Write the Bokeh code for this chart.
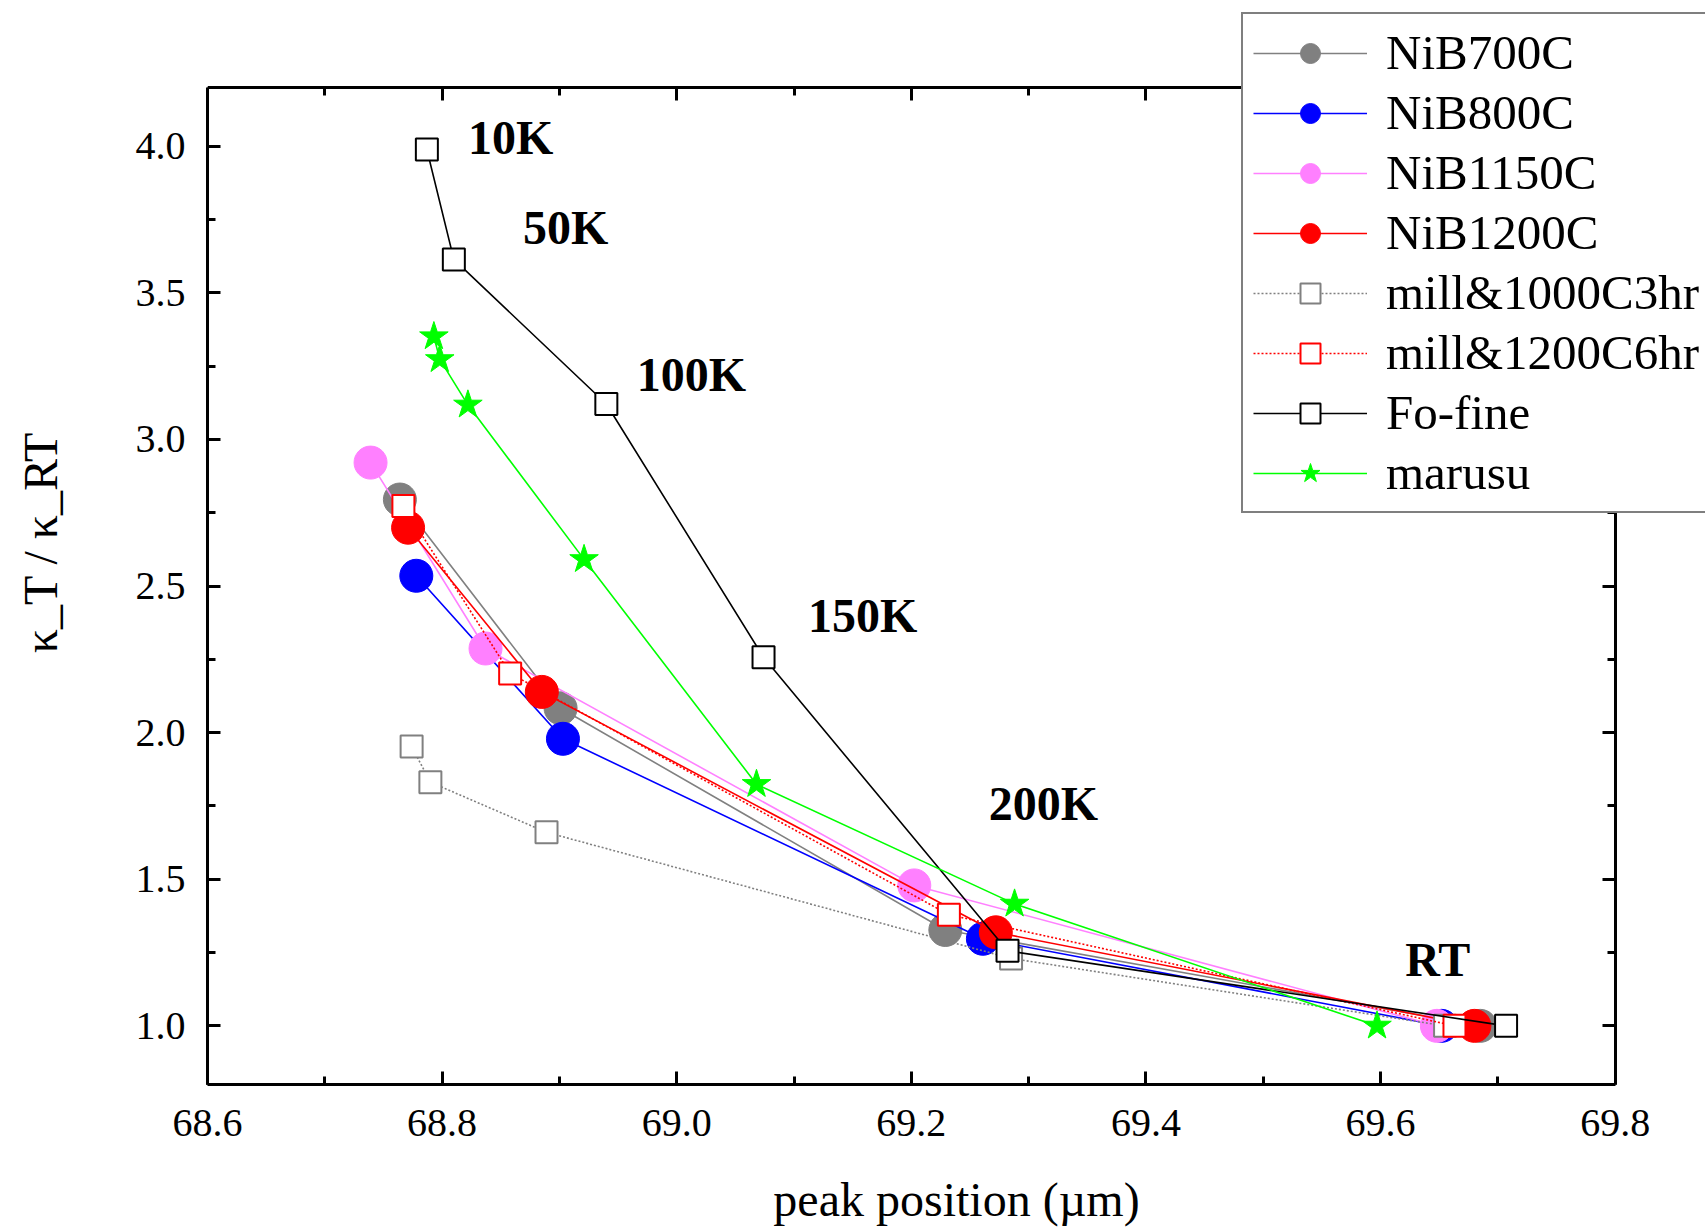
from bokeh.plotting import figure
from bokeh.models import (Legend, LegendItem, LinearAxis, SingleIntervalTicker,
                          PrintfTickFormatter, CustomJSTickFormatter, Range1d)
from bokeh.embed import file_html
from bokeh.resources import INLINE
from bokeh.core.properties import value

# ---- data (peak position in um, kappa_T / kappa_RT) ----
nib700_x = [68.764, 68.901, 69.229, 69.685]
nib700_y = [2.795, 2.083, 1.327, 1.0]
nib800_x = [68.778, 68.903, 69.261, 69.652]
nib800_y = [2.535, 1.979, 1.297, 1.0]
nib1150_x = [68.739, 68.837, 69.2025, 69.648]
nib1150_y = [2.921, 2.287, 1.479, 1.0]
nib1200_x = [68.771, 68.885, 69.272, 69.680]
nib1200_y = [2.699, 2.139, 1.319, 1.0]
mill1000_x = [68.774, 68.790, 68.889, 69.285, 69.655]
mill1000_y = [1.953, 1.831, 1.660, 1.230, 1.0]
mill1200_x = [68.767, 68.858, 69.232, 69.663]
mill1200_y = [2.773, 2.202, 1.379, 1.0]
fofine_x = [68.787, 68.810, 68.940, 69.074, 69.282, 69.707]
fofine_y = [3.989, 3.614, 3.121, 2.257, 1.256, 1.0]
marusu_x = [68.793, 68.798, 68.822, 68.921, 69.068, 69.288, 69.597]
marusu_y = [3.351, 3.273, 3.118, 2.591, 1.824, 1.416, 1.0]

temp_labels = ["10K", "50K", "100K", "150K", "200K", "RT"]
temp_x = [68.822, 68.869, 68.966, 69.112, 69.266, 69.621]
temp_y = [4.03, 3.722, 3.221, 2.398, 1.757, 1.227]

# axis box limits and the visible extent of the drawing area
X_MIN, X_MAX = 68.6, 69.8
Y_MIN, Y_MAX = 0.8, 4.2
X_VIEW_MAX = 69.877
Y_VIEW_MAX = 4.497

FONT = "Liberation Serif"

p = figure(width=1705, height=1229,
           x_range=Range1d(X_MIN, X_VIEW_MAX), y_range=Range1d(Y_MIN, Y_VIEW_MAX),
           output_backend="svg", toolbar_location=None,
           min_border_left=207, min_border_right=0,
           min_border_top=0, min_border_bottom=145)
p.xgrid.visible = False
p.ygrid.visible = False
p.outline_line_color = None
p.background_fill_color = "white"
p.border_fill_color = "white"

xt = SingleIntervalTicker(interval=0.2, num_minor_ticks=2)
yt = SingleIntervalTicker(interval=0.5, num_minor_ticks=2)
blank = CustomJSTickFormatter(code="return ''")

bottom = p.below[0]
left = p.left[0]
bottom.ticker = xt
left.ticker = yt
bottom.bounds = (X_MIN, X_MAX)
left.bounds = (Y_MIN, Y_MAX)
bottom.formatter = PrintfTickFormatter(format="%.1f")
left.formatter = PrintfTickFormatter(format="%.1f")
bottom.axis_label = "peak position (µm)"
left.axis_label = "κ_T / κ_RT"

top = LinearAxis(ticker=xt, formatter=blank, bounds=(X_MIN, X_MAX), fixed_location=Y_MAX)
right = LinearAxis(ticker=yt, formatter=blank, bounds=(Y_MIN, Y_MAX), fixed_location=X_MAX)
p.add_layout(top, "above")
p.add_layout(right, "right")

for ax in (bottom, left, top, right):
    ax.axis_line_width = 3
    ax.axis_line_color = "black"
    ax.major_tick_in = 13
    ax.major_tick_out = 0
    ax.minor_tick_in = 8
    ax.minor_tick_out = 0
    ax.major_tick_line_width = 3
    ax.minor_tick_line_width = 3
    ax.major_label_text_font = FONT
    ax.axis_label_text_font = FONT
    ax.axis_label_text_font_style = "normal"
    ax.axis_label_text_color = "black"
    ax.major_label_text_color = "black"

for ax in (bottom, left):
    ax.major_label_text_font_size = "40px"
    ax.axis_label_text_font_size = "48px"
bottom.major_label_standoff = 25
bottom.axis_label_standoff = 34
left.major_label_standoff = 22
left.axis_label_standoff = 66

series = [
    ("NiB700C", nib700_x, nib700_y, "#808080", "circle", 33, "solid", "#808080", None),
    ("NiB800C", nib800_x, nib800_y, "#0000FF", "circle", 33, "solid", "#0000FF", None),
    ("NiB1150C", nib1150_x, nib1150_y, "#FF80FF", "circle", 33, "solid", "#FF80FF", None),
    ("NiB1200C", nib1200_x, nib1200_y, "#FF0000", "circle", 33, "solid", "#FF0000", None),
    ("mill&1000C3hr", mill1000_x, mill1000_y, "#808080", "square", 22, "2 2", "white", 2),
    ("mill&1200C6hr", mill1200_x, mill1200_y, "#FF0000", "square", 22, "2 2", "white", 2),
    ("Fo-fine", fofine_x, fofine_y, "#000000", "square", 22, "solid", "white", 2),
    ("marusu", marusu_x, marusu_y, "#00FF00", "star", 30, "solid", "#00FF00", None),
]

items = []
for name, xs, ys, color, marker, size, dash, fill, lw in series:
    ln = p.line(xs, ys, line_color=color, line_width=1.6, line_dash=dash)
    if lw is None:
        sc = p.scatter(xs, ys, marker=marker, size=size, fill_color=fill,
                       line_color=fill, line_width=1)
    else:
        sc = p.scatter(xs, ys, marker=marker, size=size, fill_color=fill,
                       line_color=color, line_width=lw)
    items.append(LegendItem(label=name, renderers=[ln, sc]))

p.text(x=temp_x, y=temp_y, text=temp_labels, text_font=value(FONT),
       text_font_style="bold", text_font_size="48px", text_baseline="middle",
       text_align="left", text_color="black")

legend = Legend(items=items, location=(1034, 571),
                label_text_font=FONT, label_text_font_size="49px",
                label_text_color="black",
                glyph_width=114, glyph_height=50, label_height=50,
                label_standoff=19, spacing=3, padding=10, margin=0,
                border_line_color="black", border_line_width=2,
                background_fill_color="white", background_fill_alpha=1.0)
p.add_layout(legend)

open("out.html", "w").write(file_html(p, INLINE))
